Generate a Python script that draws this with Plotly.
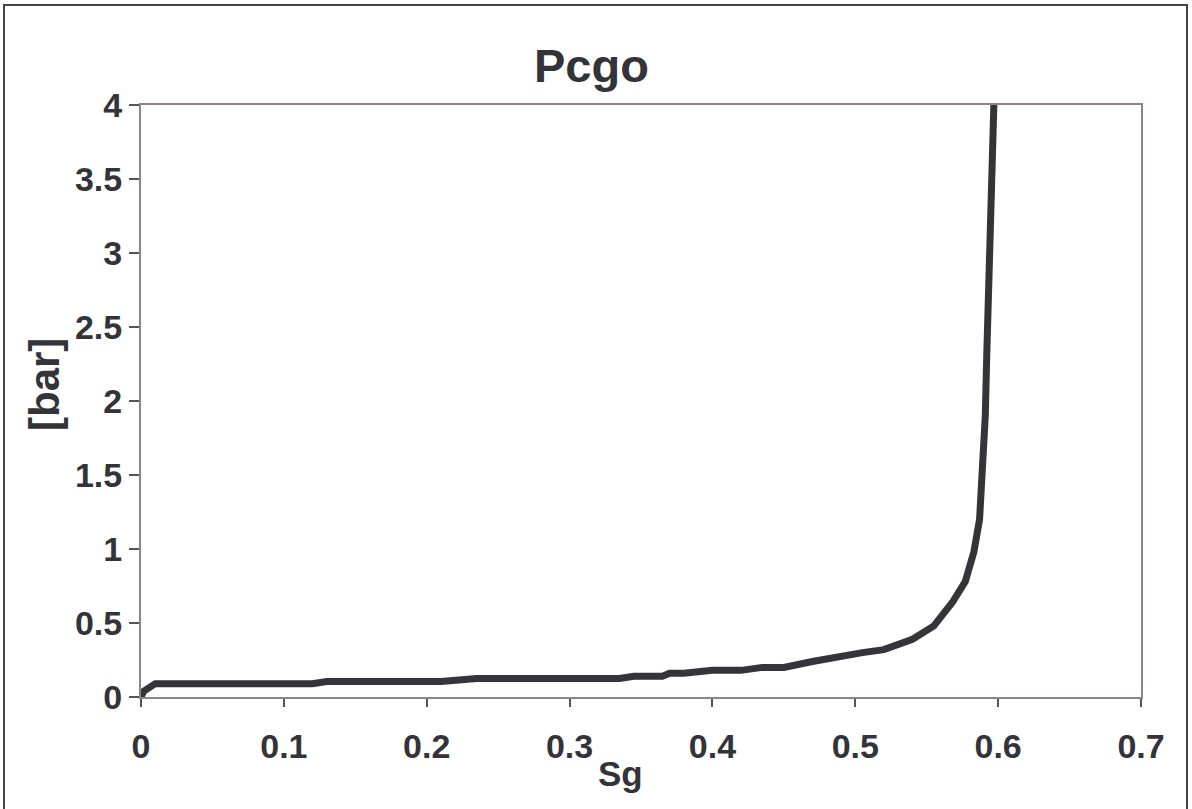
import plotly.graph_objects as go

sg = [0.0, 0.002, 0.01, 0.12, 0.13, 0.21, 0.235, 0.335, 0.345, 0.365, 0.37, 0.38,
      0.40, 0.42, 0.435, 0.45, 0.47, 0.49, 0.50, 0.505, 0.52, 0.54, 0.555, 0.568,
      0.577, 0.583, 0.587, 0.59, 0.591, 0.592, 0.593, 0.594, 0.595, 0.596, 0.597]
pcgo = [0.0, 0.04, 0.09, 0.09, 0.105, 0.105, 0.125, 0.125, 0.14, 0.14, 0.16, 0.16,
        0.18, 0.18, 0.2, 0.2, 0.24, 0.28, 0.29, 0.3, 0.32, 0.39, 0.48, 0.64,
        0.78, 0.98, 1.2, 1.63, 1.9, 2.3, 2.6, 2.95, 3.3, 3.65, 4.0]

x_ticks = [0, 0.1, 0.2, 0.3, 0.4, 0.5, 0.6, 0.7]
x_tick_labels = ["0", "0.1", "0.2", "0.3", "0.4", "0.5", "0.6", "0.7"]
y_ticks = [0, 0.5, 1, 1.5, 2, 2.5, 3, 3.5, 4]
y_tick_labels = ["0", "0.5", "1", "1.5", "2", "2.5", "3", "3.5", "4"]

FONT = "Liberation Sans, Arial, sans-serif"
TXT = "#333338"

# plot area wanted at screen x 141..1141, y 105..697 (body margin removed below)
L, T = 141, 105
W, H = 1000, 592

fig = go.Figure()
fig.add_trace(go.Scatter(x=sg, y=pcgo, mode="lines",
                         line=dict(color="#353439", width=7),
                         showlegend=False, cliponaxis=True))

axis_common = dict(showgrid=False, zeroline=False, showline=True, linewidth=2,
                   linecolor="#8e8583", mirror=True, ticks="outside",
                   tickcolor="#555555", tickwidth=2,
                   tickfont=dict(family=FONT, size=34, color=TXT, weight="bold"))

fig.update_xaxes(range=[0, 0.7], tickvals=x_ticks, ticktext=x_tick_labels,
                 ticklen=8, ticklabelstandoff=10, **axis_common)
fig.update_yaxes(range=[0, 4], tickvals=y_ticks, ticktext=y_tick_labels,
                 ticklen=10, ticklabelstandoff=0, **axis_common)

def px_x(sx):
    return (sx - L) / W

def px_y(sy):
    return (T + H - sy) / H

fig.add_annotation(text="<b>Pcgo</b>", xref="paper", yref="paper",
                   x=px_x(591), y=px_y(65), showarrow=False,
                   font=dict(family=FONT, size=47, color=TXT),
                   xanchor="center", yanchor="middle")
fig.add_annotation(text="<b>Sg</b>", xref="paper", yref="paper",
                   x=px_x(620), y=px_y(773), showarrow=False,
                   font=dict(family=FONT, size=35, color=TXT),
                   xanchor="center", yanchor="middle")
fig.add_annotation(text="<b>[bar]</b>", xref="paper", yref="paper",
                   x=px_x(44), y=px_y(385), showarrow=False,
                   textangle=-90,
                   font=dict(family=FONT, size=42, color=TXT),
                   xanchor="center", yanchor="middle")

fig.add_shape(type="rect", xref="paper", yref="paper",
              x0=px_x(4), x1=px_x(1187),
              y0=px_y(830), y1=px_y(5),
              line=dict(color="#444444", width=2), fillcolor="rgba(0,0,0,0)")

fig.update_layout(width=1192, height=809,
                  margin=dict(l=L, r=1192 - L - W, t=T, b=809 - T - H),
                  plot_bgcolor="white", paper_bgcolor="white",
                  font=dict(family=FONT, color=TXT))

fig.write_html("out.html", config={"displayModeBar": False},
               post_script="document.body.style.margin='0';document.body.style.overflow='hidden';")
